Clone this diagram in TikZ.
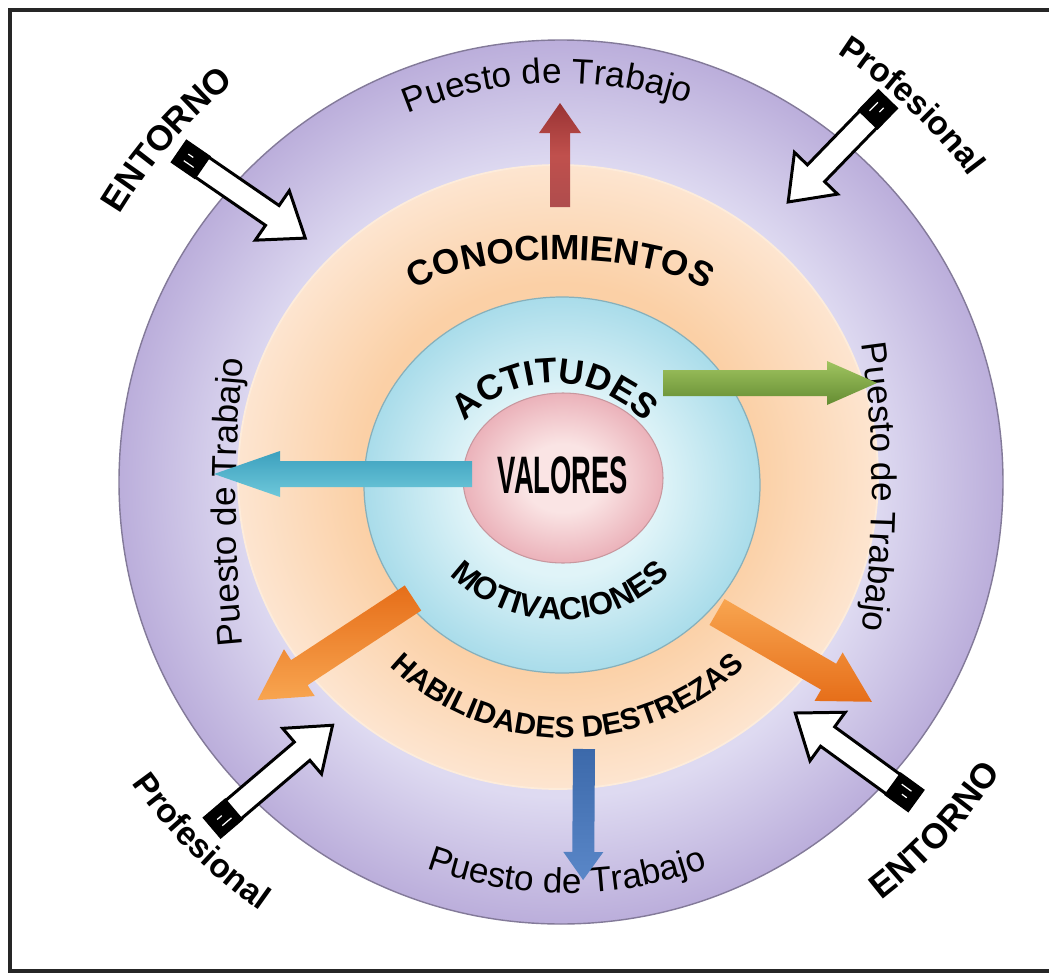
\documentclass[tikz,border=0pt]{standalone}
\usepackage{fontspec}
\setmainfont{Liberation Sans}
\usepackage{graphicx}
\usetikzlibrary{decorations.text}
\definecolor{pl}{HTML}{DEDAF1}
\definecolor{pd}{HTML}{BBAEDB}
\definecolor{ol}{HTML}{FBD0A6}
\definecolor{od}{HTML}{FDE5D0}
\definecolor{bl}{HTML}{E0F4F8}
\definecolor{bd}{HTML}{A9DCEA}
\definecolor{kl}{HTML}{FAE4E4}
\definecolor{kd}{HTML}{EBB2BA}
\pgfdeclareradialshading{purplering}{\pgfpoint{0bp}{0bp}}{color(0bp)=(pl); color(17.8bp)=(pl); color(25bp)=(pd); color(50bp)=(pd)}
\pgfdeclareradialshading{orangering}{\pgfpoint{0bp}{0bp}}{color(0bp)=(ol); color(15.5bp)=(ol); color(25bp)=(od); color(50bp)=(od)}
\pgfdeclareradialshading{bluedisc}{\pgfpoint{0bp}{0bp}}{color(0bp)=(bl); color(12bp)=(bl); color(25bp)=(bd); color(50bp)=(bd)}
\pgfdeclareradialshading{pinkdisc}{\pgfpoint{0bp}{0bp}}{color(0bp)=(kl); color(10bp)=(kl); color(25bp)=(kd); color(50bp)=(kd)}
\newcommand\fPT{\fontsize{20}{24}\selectfont}
\newcommand\fBA{\fontsize{20}{24}\selectfont\bfseries}
\newcommand\fBM{\fontsize{18}{22}\selectfont\bfseries}
\newcommand\fBH{\fontsize{17}{20}\selectfont\bfseries}
\newcommand\fBP{\fontsize{19}{22}\selectfont\bfseries}
\tikzset{
  curvtext/.style={decorate, decoration={text along path, text align=center, text={#1}}},
  warr/.style={draw=black, fill=white, line width=1.7pt, line join=miter},
}
% white block arrow: tail x, tail y (image px), angle, length
\newcommand\warrow[4]{%
\begin{scope}[shift={(#1,-#2)}, rotate=#3]
  \draw[warr] (0,-12) -- (#4-40,-12) -- (#4-40,-30) -- (#4,0) -- (#4-40,30) -- (#4-40,12) -- (0,12) -- cycle;
  \fill[black] (-2,-14) rectangle (28,14);
  \draw[white, line width=0.7pt] (8,-5) -- (20,-5) (8,3) -- (14,3);
\end{scope}}
% coloured arrow: tail x, tail y, angle, length, shaft half width, head half width, head length, colours
\newcommand\carrow[8]{%
\begin{scope}[shift={(#1,-#2)}, rotate=#3]
  \shade[#8] (0,-#5) -- (#4-#7,-#5) -- (#4-#7,-#6) -- (#4,0) -- (#4-#7,#6) -- (#4-#7,#5) -- (0,#5) -- cycle;
\end{scope}}
\begin{document}
\begin{tikzpicture}[x=0.02cm,y=0.02cm]
\useasboundingbox (0,0) rectangle (1049,-974);
\clip (0,0) rectangle (1049,-974);
\fill[white] (0,0) rectangle (1049,-974);
\draw[line width=1.8pt, black!85] (10,-10) rectangle (1080,-971);

\coordinate (C) at (561,-482);
% rings
\shade[shading=purplering] (C) circle[radius=442];
\draw[draw=black!30!pd, line width=0.8pt] (C) circle[radius=442];
\coordinate (CO) at (558,-477);
\shade[shading=orangering] (CO) ellipse[x radius=320, y radius=312];
\draw[draw=white!60!ol, line width=1pt] (CO) ellipse[x radius=320, y radius=312];
\coordinate (CB) at (562,-485);
\shade[shading=bluedisc] (CB) ellipse[x radius=198, y radius=188];
\draw[draw=bd!80!black, line width=0.7pt] (CB) ellipse[x radius=198, y radius=188];
\coordinate (CP) at (563,-478);
\shade[shading=pinkdisc] (CP) ellipse[x radius=100, y radius=85];
\draw[draw=kd!85!black, line width=0.6pt] (CP) ellipse[x radius=100, y radius=85];

\node[font=\fontsize{30}{31}\selectfont\bfseries, inner sep=0pt] (valores) at (563,-475) {\scalebox{0.52}[1]{VALORES}};

% curved texts
\path[curvtext={|\fPT|Puesto de Trabajo}] (C) ++(134:399) arc[start angle=134, end angle=50, radius=399];
\path[curvtext={|\fBA|CONOCIMIENTOS}] (560,-306.8) ++(172:154.5 and 46.8) arc[start angle=172, end angle=8, x radius=154.5, y radius=46.8];
\path[curvtext={|\fBA|ACTITUDES}] (555,-505) ++(150:122) arc[start angle=150, end angle=30, radius=122];
\path[curvtext={|\fBM|MOTIVACIONES}] (560,-464) ++(215:156) arc[start angle=215, end angle=325, radius=156];
\path[curvtext={|\fBH|HABILIDADES DESTREZAS}] (567,-483) ++(205:255) arc[start angle=205, end angle=335, radius=255];
\path[curvtext={|\fPT|Puesto de Trabajo}] (567,-482) ++(240:411) arc[start angle=240, end angle=300, radius=411];
\path[curvtext={|\fPT|Puesto de Trabajo}] (1736,-502) ++(187:1500) arc[start angle=187, end angle=173, radius=1500];
\path[curvtext={|\fPT|Puesto de Trabajo}] (-128,-487) ++(10:1000) arc[start angle=10, end angle=-10, radius=1000];
\path[curvtext={|\fBA|ENTORNO}] (C) ++(169:516) arc[start angle=169, end angle=109, radius=516];
\path[curvtext={|\fBP|Profesional}] (C) ++(77:510) arc[start angle=77, end angle=17, radius=510];
\path[curvtext={|\fBP|Profesional}] (C) ++(195:524) arc[start angle=195, end angle=255, radius=524];
\path[curvtext={|\fBA|ENTORNO}] (C) ++(287:527) arc[start angle=287, end angle=347, radius=527];

% coloured arrows
\carrow{560}{207}{90}{104}{10}{21}{30}{top color=red!50!black!80!white, bottom color=red!55!black!70!white, middle color={rgb,255:red,192;green,80;blue,77}}
\carrow{663}{383}{0}{214}{13}{22}{50}{top color={rgb,255:red,160;green,196;blue,96}, bottom color={rgb,255:red,100;green,140;blue,50}}
\carrow{472}{474}{180}{258}{13}{23}{66}{top color={rgb,255:red,60;green,160;blue,190}, bottom color={rgb,255:red,110;green,200;blue,218}}
\carrow{413}{598}{213.3}{186}{15}{28}{50}{top color={rgb,255:red,230;green,110;blue,25}, bottom color={rgb,255:red,248;green,165;blue,80}}
\carrow{717}{612}{-30.1}{179}{15}{28}{50}{top color={rgb,255:red,248;green,165;blue,80}, bottom color={rgb,255:red,230;green,110;blue,25}}
\carrow{584}{749}{-90.4}{131}{11}{20}{28}{top color={rgb,255:red,60;green,105;blue,170}, bottom color={rgb,255:red,90;green,135;blue,200}}

% white block arrows
\warrow{180}{152}{-34.5}{152}
\warrow{887}{100}{-134.1}{142}
\warrow{213}{827}{40.4}{157}
\warrow{915}{800}{144}{148}
\end{tikzpicture}
\end{document}
